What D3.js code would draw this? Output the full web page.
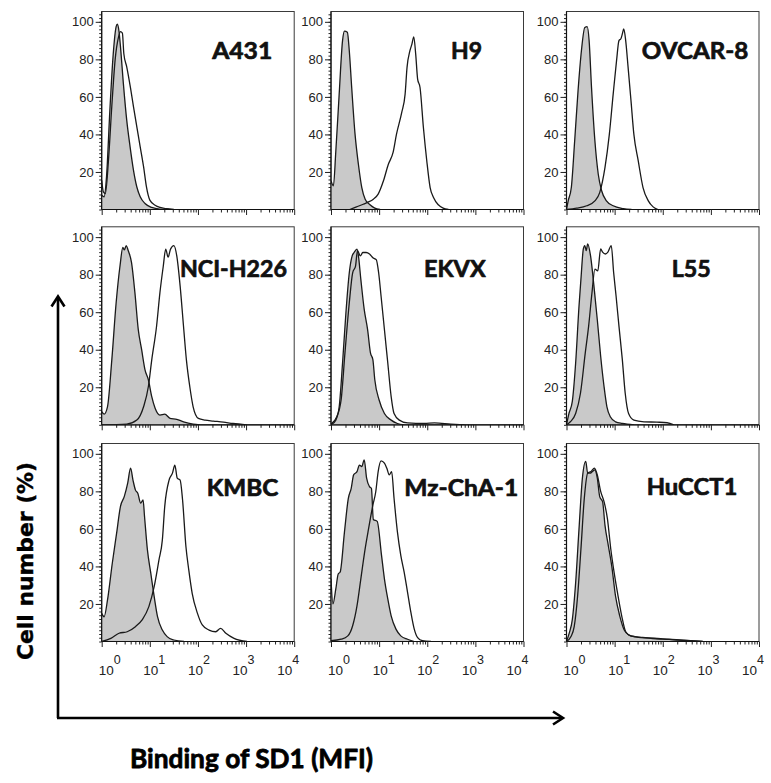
<!DOCTYPE html>
<html>
<head>
<meta charset="utf-8">
<script src="https://cdn.jsdelivr.net/npm/d3@7/dist/d3.min.js"></script>
<style>
  html, body { margin: 0; padding: 0; background: #fff; }
  svg { display: block; }
</style>
</head>
<body>
<div id="chart"></div>
<script>
// ---------------- DATA ----------------
// Cell lines (panel order: row by row)
const cellLines = ["A431", "H9", "OVCAR-8", "NCI-H226", "EKVX", "L55", "KMBC", "Mz-ChA-1", "HuCCT1"];

// y ticks (% of max) and x tick exponents (10^n)
const yTickValues = [20, 40, 60, 80, 100];
const xTickExponents = [0, 1, 2, 3, 4];

// Each curve: [log10(MFI), cell number %]
// Control (grey, filled) histograms
const a431Control = [[0,7.6],[0.05,6.8],[0.10,17.4],[0.17,53],[0.24,83],[0.30,97.4],[0.325,98.7],[0.36,94.8],[0.39,86.8],[0.45,67.2],[0.52,47.6],[0.59,33.4],[0.66,21],[0.73,12],[0.80,6.8],[0.90,3.2],[1.04,1.1],[1.21,0.2],[1.4,0]];
const h9Control = [[0,15.3],[0.05,12.6],[0.10,31],[0.17,61.5],[0.24,90],[0.28,95],[0.34,94.4],[0.38,84.6],[0.43,65],[0.50,40],[0.57,24],[0.64,11.7],[0.71,5.5],[0.81,2.5],[0.91,0.7],[1.02,0]];
const ovcar8Control = [[0,0],[0.035,4.6],[0.10,11.7],[0.17,36.6],[0.24,63.3],[0.31,84.6],[0.38,97],[0.43,97.4],[0.47,90],[0.52,65],[0.59,36.6],[0.66,18.8],[0.73,10],[0.83,4.6],[0.97,2],[1.18,0.5],[1.35,0]];
const nciH226Control = [[0,7],[0.05,5.7],[0.12,9.6],[0.21,34.6],[0.30,65],[0.38,84.6],[0.44,94.5],[0.47,93.2],[0.51,95.5],[0.55,92.9],[0.62,86.4],[0.69,70.4],[0.76,50.7],[0.83,40],[0.90,29.3],[0.97,24],[1.04,15],[1.11,8.8],[1.21,5.2],[1.31,5.7],[1.42,3.4],[1.56,2.9],[1.70,1.6],[1.90,0.4],[2.04,0]];
const ekvxControl = [[0,0],[0.10,2.5],[0.17,9.6],[0.24,32.9],[0.31,59.7],[0.38,81],[0.44,90],[0.48,91.8],[0.54,93.6],[0.57,90],[0.62,77.5],[0.69,61.5],[0.76,50.8],[0.82,38.3],[0.87,34.7],[0.91,24],[1.00,13.2],[1.11,6],[1.25,2.5],[1.38,0.7],[1.52,0]];
const l55Control = [[0,0],[0.05,6],[0.12,12.3],[0.19,32.9],[0.26,63.3],[0.30,77.6],[0.35,93.7],[0.38,95.5],[0.41,92.8],[0.44,96.4],[0.50,90],[0.57,74],[0.64,56],[0.71,36.5],[0.78,20.4],[0.84,9.6],[0.91,4.3],[1.02,1.6],[1.16,0.7],[1.40,0]];
const kmbcControl = [[0,15],[0.05,13.2],[0.12,22],[0.22,41.7],[0.31,57.7],[0.39,72],[0.47,77.3],[0.54,84.4],[0.60,92.4],[0.65,86],[0.70,80.8],[0.75,79],[0.81,73.7],[0.86,75.5],[0.89,66.6],[0.95,48.8],[1.02,36.4],[1.09,24],[1.16,13.2],[1.26,6.1],[1.36,2.6],[1.50,0.8],[1.71,0]];
const mzChA1Control = [[0,33.4],[0.04,20],[0.10,28],[0.15,36],[0.19,37],[0.28,58.4],[0.36,76.3],[0.42,81.6],[0.47,88.8],[0.54,90.5],[0.59,94],[0.64,93.2],[0.69,96.8],[0.74,87],[0.80,82.5],[0.84,81.6],[0.88,65],[0.96,64],[1.05,45.9],[1.11,33.4],[1.18,22.7],[1.25,13.7],[1.35,6.6],[1.45,3],[1.59,1.2],[1.73,0]];
const hucct1Control = [[0,0],[0.055,4.3],[0.12,11.5],[0.19,31.3],[0.26,60],[0.33,87],[0.40,96],[0.44,89.7],[0.49,89.7],[0.54,90.6],[0.59,91.5],[0.64,87],[0.69,77.2],[0.75,74.5],[0.80,61.9],[0.87,51],[0.94,40.3],[1.02,24],[1.11,13.3],[1.20,6.1],[1.30,3.4],[1.44,2.5],[1.79,1.6],[2.13,1.1],[2.55,0.4],[2.83,0]];

// SD1 (open) histograms
const a431SD1 = [[0,15.6],[0.035,9.4],[0.076,8.5],[0.14,26],[0.21,55],[0.28,80],[0.35,92],[0.39,94.8],[0.43,94],[0.46,83],[0.52,76],[0.60,64.5],[0.66,54.8],[0.73,44],[0.80,33.4],[0.87,22.8],[0.93,12],[1.0,5],[1.11,2.3],[1.21,1.1],[1.35,0.4],[1.5,0]];
const h9SD1 = [[0.39,0],[0.53,1.4],[0.67,2.8],[0.77,3.9],[0.88,5.5],[0.98,8.2],[1.09,15.3],[1.19,24],[1.29,30.4],[1.36,40],[1.47,51.7],[1.54,61.5],[1.58,75.7],[1.64,84.6],[1.68,88],[1.72,92],[1.76,82.8],[1.80,69.5],[1.85,65],[1.92,43.7],[1.99,26],[2.06,11.7],[2.13,6.4],[2.23,2.5],[2.33,0.7],[2.44,0]];
const ovcar8SD1 = [[0,0],[0.21,0.7],[0.42,2],[0.59,4.6],[0.69,9],[0.80,22.4],[0.89,40],[0.97,61.5],[1.04,79.3],[1.09,90],[1.13,91],[1.16,93.5],[1.19,96.2],[1.23,90],[1.28,75.7],[1.34,58],[1.40,40],[1.49,26],[1.59,11.7],[1.70,4.6],[1.80,1.4],[1.90,0]];
const nciH226SD1 = [[0,0],[0.52,0.4],[0.73,2.5],[0.87,9.6],[0.97,20.4],[1.04,34.6],[1.14,52.5],[1.21,70.4],[1.28,84.6],[1.33,93.6],[1.38,89.3],[1.43,93.6],[1.50,95.5],[1.56,90],[1.63,73.9],[1.70,52.5],[1.76,34.6],[1.83,20.4],[1.90,9.6],[2.01,3.4],[2.15,2.5],[2.32,2],[2.53,1.4],[2.73,0.7],[3.01,0]];
const ekvxSD1 = [[0,0.4],[0.12,4.3],[0.21,13.2],[0.29,38.3],[0.38,65],[0.45,81],[0.51,84.6],[0.55,92.8],[0.61,90],[0.66,91.8],[0.73,91.8],[0.80,91],[0.87,89],[0.94,88],[0.99,81],[1.04,68.6],[1.11,50.8],[1.18,32.9],[1.25,15],[1.31,6],[1.42,2.5],[1.59,1],[1.94,0.7],[2.15,1],[2.49,0.4],[2.77,0]];
const l55SD1 = [[0,0],[0.08,1.6],[0.19,6],[0.29,16.8],[0.39,38.3],[0.46,52.6],[0.53,70.5],[0.59,83],[0.65,82],[0.71,93.7],[0.75,92],[0.81,91],[0.86,92],[0.93,95.5],[0.98,81],[1.03,68.6],[1.09,52.6],[1.16,34.7],[1.22,16.8],[1.29,6],[1.40,2.5],[1.61,1.6],[1.88,1.4],[2.09,1.1],[2.23,0]];
const kmbcSD1 = [[0,0],[0.19,1.7],[0.36,4.4],[0.53,5.2],[0.70,7.9],[0.84,11.5],[0.98,18.6],[1.09,29.2],[1.19,43.5],[1.26,54],[1.31,72],[1.40,86],[1.47,89.7],[1.52,94],[1.57,87],[1.63,86],[1.68,75.5],[1.75,50.6],[1.81,38],[1.88,25.7],[1.99,15],[2.09,8.8],[2.23,6.1],[2.37,5.2],[2.47,7],[2.58,4.4],[2.75,1.7],[3.02,0]];
const mzChA1SD1 = [[0,0.4],[0.21,1.2],[0.35,3],[0.45,8.4],[0.54,19],[0.62,33.4],[0.71,49.5],[0.78,60],[0.87,72.7],[0.93,79.8],[0.98,90.5],[1.04,96.2],[1.11,95],[1.16,92.3],[1.21,88.8],[1.26,90.5],[1.31,76.3],[1.38,58.4],[1.45,45.9],[1.52,37],[1.59,26.3],[1.66,15.5],[1.73,6.6],[1.80,2.1],[1.90,0.4],[2.08,0]];
const hucct1SD1 = [[0,0],[0.09,2.5],[0.16,7.9],[0.23,24],[0.30,49.3],[0.37,76.3],[0.44,89.7],[0.51,90.6],[0.58,92.4],[0.64,88.8],[0.71,80],[0.78,74.5],[0.85,65.5],[0.92,49.3],[0.99,36.7],[1.06,25.9],[1.15,13.3],[1.23,5.2],[1.34,2.9],[1.58,2.2],[2.00,1.4],[2.42,0.7],[2.83,0]];

const controlCurves = [a431Control, h9Control, ovcar8Control, nciH226Control, ekvxControl, l55Control, kmbcControl, mzChA1Control, hucct1Control];
const sd1Curves = [a431SD1, h9SD1, ovcar8SD1, nciH226SD1, ekvxSD1, l55SD1, kmbcSD1, mzChA1SD1, hucct1SD1];

// ---------------- LAYOUT ----------------
const W = 771, H = 783;
const colLeft = [101.7, 331, 566.5];
const rowTop = [11.5, 226.8, 443.5];
const panelW = 192.5, panelH = 198;
// label placement inside each panel: [dx from left, baseline dy from top, width]
const labelLayout = [[110.5, 47.8, 60], [120, 47.8, 31], [75.2, 47.8, 106.6],
                     [78.3, 49.9, 107], [93, 49.9, 61.7], [105.2, 49.9, 39],
                     [105, 52, 71.6], [73.3, 52.5, 114], [80.2, 51.5, 90.6]];

const svg = d3.select("#chart").append("svg")
  .attr("width", W).attr("height", H)
  .attr("viewBox", `0 0 ${W} ${H}`);

const x = d3.scaleLog().domain([1, 1e4]).range([0, panelW]);
const y = d3.scaleLinear().domain([0, 105.5]).range([panelH, 0]);
const xv = d => x(Math.pow(10, d[0]));

const majorX = xTickExponents.map(e => Math.pow(10, e));
const minorX = [];
xTickExponents.slice(0, -1).forEach(e => { for (let k = 2; k <= 9; k++) minorX.push(k * Math.pow(10, e)); });
const minorY = d3.range(0, 105, 2);

const labelScale = d3.scaleLinear().domain([0, 4]).range([8, panelW - 6]);

const area = d3.area().x(xv).y0(y(0)).y1(d => y(d[1])).curve(d3.curveMonotoneX);
const line = d3.line().x(xv).y(d => y(d[1])).curve(d3.curveMonotoneX);

const defs = svg.append("defs");
defs.append("clipPath").attr("id", "pclip").append("rect")
  .attr("x", 0).attr("y", 0).attr("width", panelW).attr("height", panelH);

cellLines.forEach((name, i) => {
  const col = i % 3, row = Math.floor(i / 3);
  const g = svg.append("g").attr("transform", `translate(${colLeft[col]},${rowTop[row]})`);

  // frame
  g.append("rect").attr("x", 0).attr("y", 0).attr("width", panelW).attr("height", panelH)
    .attr("fill", "#fff").attr("stroke", "#3a3a3a").attr("stroke-width", 1);

  const plot = g.append("g").attr("clip-path", "url(#pclip)");
  plot.append("path").datum(controlCurves[i]).attr("d", area)
    .attr("fill", "#c9c9c9").attr("stroke", "none");
  plot.append("path").datum(controlCurves[i]).attr("d", line)
    .attr("fill", "none").attr("stroke", "#1a1a1a").attr("stroke-width", 1.3);
  plot.append("path").datum(sd1Curves[i]).attr("d", line)
    .attr("fill", "none").attr("stroke", "#1a1a1a").attr("stroke-width", 1.3);

  // y axis minor + major
  g.append("g").call(d3.axisLeft(y).tickValues(minorY).tickSize(2.5).tickSizeOuter(0).tickFormat(""))
    .call(s => s.select(".domain").remove())
    .selectAll("line").attr("stroke", "#222");
  const ya = g.append("g").call(d3.axisLeft(y).tickValues(yTickValues).tickSize(6).tickSizeOuter(0).tickPadding(2));
  ya.select(".domain").attr("d", `M0,${panelH}V0`).attr("stroke", "#111").attr("stroke-width", 1.2);
  ya.selectAll("line").attr("stroke", "#222");
  ya.selectAll("text").attr("font-family", "Liberation Sans, Arial, sans-serif")
    .attr("font-size", 13).attr("fill", "#222");

  // x axis minor + major
  g.append("g").attr("transform", `translate(0,${panelH})`)
    .call(d3.axisBottom(x).tickValues(minorX).tickSize(3).tickSizeOuter(0).tickFormat(""))
    .call(s => s.select(".domain").remove())
    .selectAll("line").attr("stroke", "#222");
  const xa = g.append("g").attr("transform", `translate(0,${panelH})`)
    .call(d3.axisBottom(x).tickValues(majorX).tickSize(5.5).tickSizeOuter(0).tickFormat(""));
  xa.select(".domain").attr("d", `M0,0H${panelW}`).attr("stroke", "#111").attr("stroke-width", 1.2);
  xa.selectAll("line").attr("stroke", "#222");

  // x tick labels (bottom row only)
  if (row === 2) {
    xTickExponents.forEach(e => {
      const t = g.append("text")
        .attr("x", labelScale(e)).attr("y", panelH + 33)
        .attr("text-anchor", "middle")
        .attr("font-family", "Liberation Sans, Arial, sans-serif")
        .attr("font-size", 13.5).attr("fill", "#222");
      t.append("tspan").text("10");
      t.append("tspan").attr("dy", -11).attr("font-size", 12.5).text(String(e));
    });
  }

  // panel label
  const L = labelLayout[i];
  g.append("text").attr("x", L[0]).attr("y", L[1])
    .attr("font-family", "Lato, 'Open Sans', sans-serif").attr("font-weight", "bold")
    .attr("font-size", 23.5).attr("fill", "#111")
    .attr("stroke", "#111").attr("stroke-width", 0.7).attr("stroke-linejoin", "round")
    .attr("textLength", L[2]).attr("lengthAdjust", "spacingAndGlyphs")
    .text(name);
});

// big axis arrows
const arrow = svg.append("g").attr("stroke", "#000").attr("fill", "none")
  .attr("stroke-width", 2.6).attr("stroke-linecap", "butt");
arrow.append("path").attr("d", "M58,718 V297");
arrow.append("path").attr("d", "M51.5,306.5 L58,296.5 L64.5,306.5").attr("stroke-linejoin", "miter");
arrow.append("path").attr("d", "M57,718 H562");
arrow.append("path").attr("d", "M553,711.5 L563,718 L553,724.5").attr("stroke-linejoin", "miter");

// axis titles
svg.append("text")
  .attr("transform", "translate(33,561) rotate(-90)")
  .attr("text-anchor", "middle")
  .attr("font-family", "'DejaVu Sans', Verdana, sans-serif").attr("font-weight", "bold")
  .attr("font-size", 21).attr("fill", "#000")
  .attr("stroke", "#000").attr("stroke-width", 0.4)
  .attr("textLength", 198).attr("lengthAdjust", "spacingAndGlyphs")
  .text("Cell number (%)");

svg.append("text")
  .attr("x", 130).attr("y", 768)
  .attr("font-family", "Lato, 'Open Sans', sans-serif").attr("font-weight", "bold")
  .attr("font-size", 27).attr("fill", "#000")
  .attr("stroke", "#000").attr("stroke-width", 0.8).attr("stroke-linejoin", "round")
  .attr("textLength", 243).attr("lengthAdjust", "spacingAndGlyphs")
  .text("Binding of SD1 (MFI)");
</script>
</body>
</html>
